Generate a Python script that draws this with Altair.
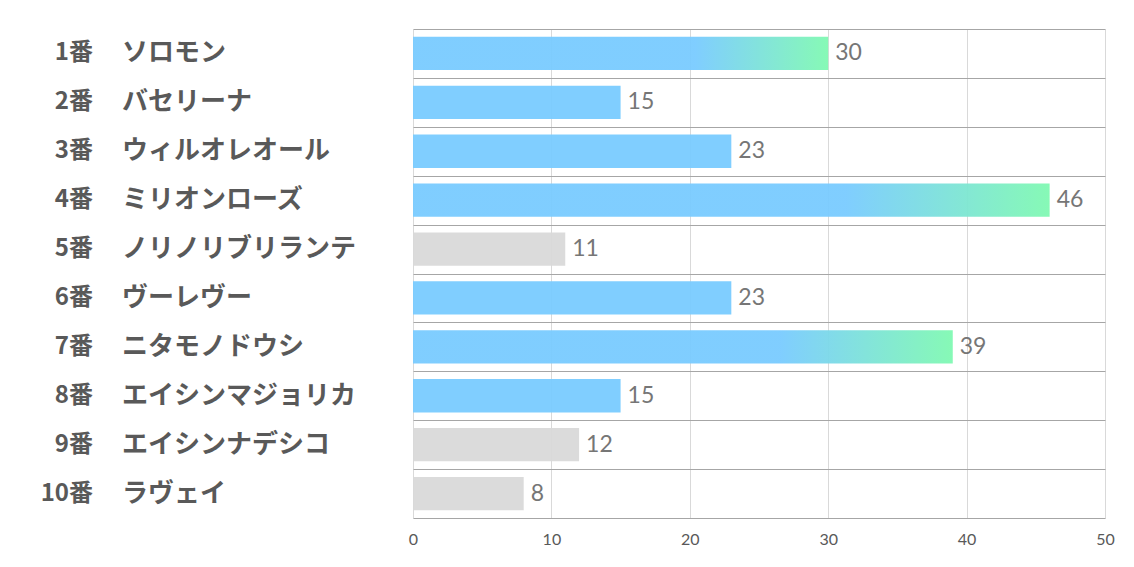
import altair as alt
import pandas as pd

nums = ["1番", "2番", "3番", "4番", "5番", "6番", "7番", "8番", "9番", "10番"]
names = ["ソロモン", "バセリーナ", "ウィルオレオール", "ミリオンローズ", "ノリノリブリランテ",
         "ヴーレヴー", "ニタモノドウシ", "エイシンマジョリカ", "エイシンナデシコ", "ラヴェイ"]
values = [30, 15, 23, 46, 11, 23, 39, 15, 12, 8]
kinds = ["grad", "blue", "blue", "grad", "grey", "blue", "grad", "blue", "grey", "grey"]
ticks = [0, 10, 20, 30, 40, 50]

df = pd.DataFrame({"num": nums, "name": names, "value": values, "kind": kinds})

BLUE = "#79CBFF"
GREEN = "#80F9B2"
GREY = "#D9D9D9"

y = alt.Y("num:N", sort=nums,
          scale=alt.Scale(paddingInner=0, paddingOuter=0),
          axis=alt.Axis(title=None, labels=False, ticks=False, domain=False,
                        grid=True, tickBand="extent", gridColor="#a6a6a6", gridWidth=1))
x = alt.X("value:Q", scale=alt.Scale(domain=[0, 50], nice=False),
          axis=alt.Axis(title=None, values=ticks, grid=True, gridColor="#d9d9d9",
                        domain=False, ticks=False, labelColor="#595959", labelFlush=False,
                        labelFontSize=16, labelPadding=13, labelFont="Lato"))

base = alt.Chart(df)

grad = alt.Gradient(gradient="linear",
                    stops=[alt.GradientStop(color=BLUE, offset=0),
                           alt.GradientStop(color=BLUE, offset=0.68),
                           alt.GradientStop(color=GREEN, offset=1)],
                    x1=0, x2=1, y1=0, y2=0)

bh = alt.RelativeBandSize(0.68)
bars_grad = base.mark_bar(color=grad, opacity=0.95, height=bh).encode(x=x, y=y).transform_filter(alt.datum.kind == "grad")
bars_blue = base.mark_bar(color=BLUE, opacity=0.95, height=bh).encode(x=x, y=y).transform_filter(alt.datum.kind == "blue")
bars_grey = base.mark_bar(color=GREY, opacity=0.95, height=bh).encode(x=x, y=y).transform_filter(alt.datum.kind == "grey")

vals = base.mark_text(align="left", dx=7, fontSize=23, color="#767676", font="Lato").encode(
    x="value:Q", y=y, text="value:Q")

num_lbl = base.mark_text(align="right", fontSize=24, fontWeight="bold", color="#595959",
                         font="Noto Sans CJK JP").encode(x=alt.value(-320), y=y, text="num:N")
name_lbl = base.mark_text(align="left", fontSize=26, fontWeight="bold", color="#595959",
                          font="Noto Sans CJK JP").encode(x=alt.value(-291), y=y, text="name:N")

chart = alt.layer(bars_grad, bars_blue, bars_grey, vals, num_lbl, name_lbl).properties(
    width=692, height=489,
    autosize=alt.AutoSizeParams(type="none"),
    padding={"left": 405, "top": 21, "right": 21, "bottom": 30},
).configure_view(stroke=None)

chart.save("out.html", embed_options={"renderer": "svg", "actions": False})
